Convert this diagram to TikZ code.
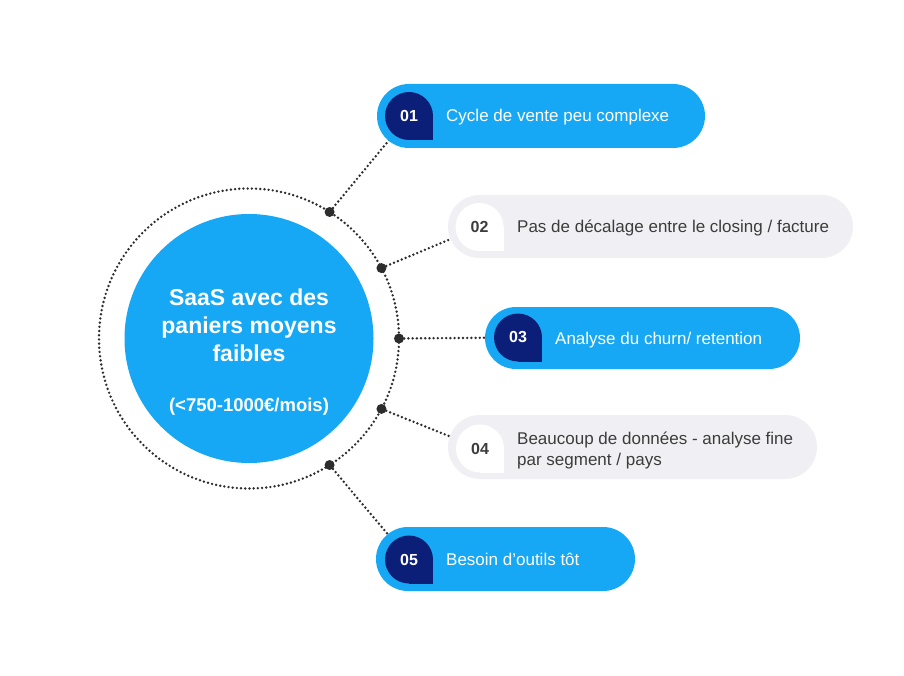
\documentclass[tikz,border=0pt]{standalone}
\usepackage{fontspec}
\setmainfont{Liberation Sans}
\usetikzlibrary{calc}
\definecolor{sblue}{RGB}{22,168,244}
\definecolor{snavy}{RGB}{12,31,120}
\definecolor{sgray}{RGB}{240,240,244}
\definecolor{sdark}{RGB}{60,60,60}
\definecolor{sdot}{RGB}{45,45,45}
\pgfdeclarelayer{bg}
\pgfdeclarelayer{lines}
\pgfsetlayers{bg,lines,main}
\begin{document}
\begin{tikzpicture}[x=1pt,y=-1pt,
  conn/.style={draw=sdot, line width=2.7pt, line cap=round, dash pattern=on 0pt off 4.2pt},
  dotnode/.style={circle, fill=sdot, minimum size=10pt, inner sep=0pt},
  pillblue/.style={rectangle, fill=sblue, inner sep=0pt},
  pillgray/.style={rectangle, fill=sgray, inner sep=0pt},
  numshape/.style={circle, minimum size=48pt, inner sep=0pt},
  numtext/.style={font=\fontsize{16}{19}\selectfont\bfseries, inner sep=0pt},
  itemtext/.style={font=\fontsize{17}{20}\selectfont, inner sep=0pt, anchor=base west},
  centertext/.style={font=\fontsize{23}{28}\selectfont\bfseries, text=white, inner sep=0pt, anchor=base},
  centersub/.style={font=\fontsize{18.5}{22}\selectfont\bfseries, text=white, inner sep=0pt, anchor=base}
]
\useasboundingbox (0,0) rectangle (904,676);
\begin{pgfonlayer}{bg}
\fill[white] (0,0) rectangle (904,676);
\end{pgfonlayer}

% central circle
\node[circle, fill=sblue, minimum size=249pt, inner sep=0pt] (C) at (249,338.5) {};
\node[centertext] (c1) at (249,305) {SaaS avec des};
\node[centertext] (c2) at (249,333) {paniers moyens};
\node[centertext] (c3) at (249,361) {faibles};
\node[centersub] (c4) at (249,411) {(<750-1000€/mois)};

% dots on the ring (y axis points down)
\node[dotnode] (d1) at ($(C.center)+(-57.5:150)$) {};
\node[dotnode] (d2) at ($(C.center)+(-28:150)$) {};
\node[dotnode] (d3) at ($(C.center)+(0:150)$) {};
\node[dotnode] (d4) at ($(C.center)+(28:150)$) {};
\node[dotnode] (d5) at ($(C.center)+(57.5:150)$) {};

% pills
\node[pillblue, minimum width=328pt, minimum height=64pt, rounded corners=32pt] (p1) at (541,116) {};
\node[pillgray, minimum width=405pt, minimum height=63pt, rounded corners=31.5pt] (p2) at (650.5,226.5) {};
\node[pillblue, minimum width=315pt, minimum height=62pt, rounded corners=31pt] (p3) at (642.5,338) {};
\node[pillgray, minimum width=369pt, minimum height=64pt, rounded corners=32pt] (p4) at (632.5,447) {};
\node[pillblue, minimum width=259pt, minimum height=64pt, rounded corners=32pt] (p5) at (505.5,559) {};

% number shapes
\node[numshape, fill=snavy] (n1) at (409,116) {};
\fill[snavy] (n1.center) rectangle (n1.east |- n1.south);
\node[numtext, text=white] (k1) at (n1.center) {01};

\node[numshape, fill=white] (n2) at (479.5,227) {};
\fill[white] (n2.center) rectangle (n2.east |- n2.south);
\node[numtext, text=sdark] (k2) at (n2.center) {02};

\node[numshape, fill=snavy] (n3) at (518,337.5) {};
\fill[snavy] (n3.center) rectangle (n3.east |- n3.south);
\node[numtext, text=white] (k3) at (n3.center) {03};

\node[numshape, fill=white] (n4) at (480,448.5) {};
\fill[white] (n4.center) rectangle (n4.east |- n4.south);
\node[numtext, text=sdark] (k4) at (n4.center) {04};

\node[numshape, fill=snavy] (n5) at (409,559.5) {};
\fill[snavy] (n5.center) rectangle (n5.east |- n5.south);
\node[numtext, text=white] (k5) at (n5.center) {05};

% item texts
\node[itemtext, text=white] (t1) at (446,122) {Cycle de vente peu complexe};
\node[itemtext, text=sdark] (t2) at (517,233) {Pas de décalage entre le closing / facture};
\node[itemtext, text=white] (t3) at (555,344) {Analyse du churn/ retention};
\node[itemtext, text=sdark] (t4a) at (517,444) {Beaucoup de données - analyse fine};
\node[itemtext, text=sdark] (t4b) at (517,465) {par segment / pays};
\node[itemtext, text=white] (t5) at (446,565.5) {Besoin d’outils tôt};

% connectors (behind)
\begin{pgfonlayer}{lines}
\draw[conn] (C.center) circle (150);
\draw[conn] (d1) -- (n1);
\draw[conn] (d2) -- (n2);
\draw[conn] (d3) -- (n3);
\draw[conn] (d4) -- (n4);
\draw[conn] (d5) -- (n5);
\end{pgfonlayer}
\end{tikzpicture}
\end{document}
